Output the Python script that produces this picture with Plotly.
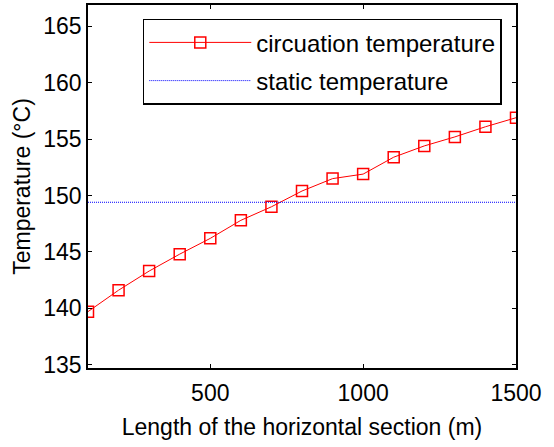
import plotly.graph_objects as go

lengths = [100, 200, 300, 400, 500, 600, 700, 800, 900, 1000, 1100, 1200, 1300, 1400, 1500]
circulation_temp = [139.7, 141.6, 143.3, 144.8, 146.2, 147.8, 149.0, 150.4, 151.5, 151.9, 153.4, 154.4, 155.2, 156.1, 156.9]
static_temp = 149.4
x_ticks = [500, 1000, 1500]
y_ticks = [135, 140, 145, 150, 155, 160, 165]

font_family = "Liberation Sans, Arial, sans-serif"
fs = 23

fig = go.Figure()
fig.add_trace(go.Scatter(
    x=lengths, y=circulation_temp, mode="lines+markers",
    name="circuation temperature", legendgroup="a",
    line=dict(color="#ff0000", width=1),
    marker=dict(symbol="square-open", size=11, color="#ff0000", line=dict(width=1.5)),
))
fig.add_trace(go.Scatter(
    x=[lengths[0], lengths[-1]], y=[static_temp, static_temp], mode="lines",
    name="static temperature", legendgroup="b",
    line=dict(color="#0000ff", width=1, dash="1px,1px"),
))

axis_common = dict(
    showgrid=False, zeroline=False, showline=True, linecolor="black", linewidth=1.5,
    mirror="ticks", ticks="inside", ticklen=4, tickcolor="black", automargin=False,
    tickfont=dict(family=font_family, size=fs, color="black"),
)
fig.update_xaxes(range=[100, 1500], tickvals=x_ticks, ticklabelstandoff=4,
                 title=dict(text="Length of the horizontal section (m)",
                            font=dict(family=font_family, size=fs, color="black"), standoff=14),
                 **axis_common)
fig.update_yaxes(range=[134.7, 166.9], tickvals=y_ticks,
                 title=dict(text="Temperature (°C)",
                            font=dict(family=font_family, size=fs, color="black"), standoff=6),
                 **axis_common)

fig.update_layout(
    width=554, height=447,
    margin=dict(l=88, r=38, t=5, b=79),
    plot_bgcolor="white", paper_bgcolor="white",
    font=dict(family=font_family, color="black"),
    legend=dict(x=0.128, y=0.962, xanchor="left", yanchor="top",
                bgcolor="white", bordercolor="black", borderwidth=1.5,
                font=dict(family=font_family, size=24, color="black"),
                itemwidth=102, tracegroupgap=4, traceorder="grouped"),
    showlegend=True,
)

fig.write_html("out.html", config={"displayModeBar": False},
               post_script="document.body.style.margin='0';document.body.style.overflow='hidden';")
